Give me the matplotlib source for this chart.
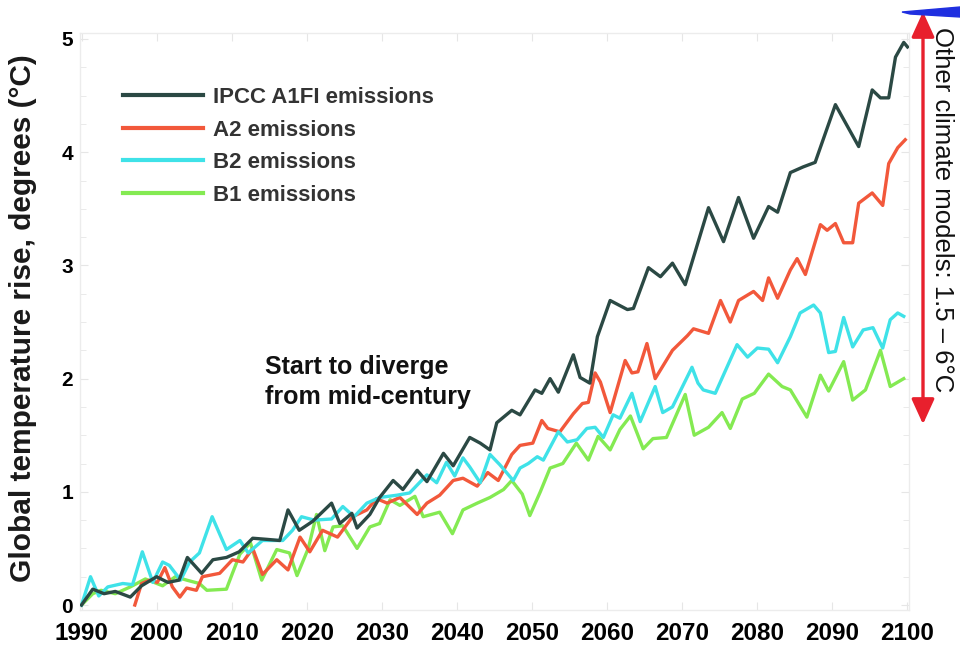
import matplotlib
matplotlib.use("Agg")
import matplotlib.pyplot as plt
from matplotlib.patches import Polygon, FancyArrowPatch
from matplotlib.ticker import MultipleLocator

plt.rcParams['font.family'] = ['Liberation Sans', 'DejaVu Sans']

# ---- projected warming series (years, degrees C above 1990) ----
a1fi_years = [1990.0, 1991.5, 1993.0, 1994.5, 1996.5, 1998.0, 2000.0, 2001.5, 2003.0, 2004.1,
              2006.0, 2007.5, 2009.3, 2011.0, 2012.8, 2014.7, 2016.4, 2017.5, 2019.0, 2020.8,
              2023.3, 2024.4, 2026.0, 2026.7, 2028.4, 2029.7, 2031.5, 2032.8, 2034.7, 2036.0,
              2038.2, 2039.5, 2041.7, 2043.1, 2044.4, 2045.3, 2047.3, 2048.4, 2050.4, 2051.3,
              2052.4, 2053.5, 2055.5, 2056.4, 2057.7, 2058.7, 2060.4, 2062.7, 2063.5, 2065.5,
              2067.1, 2068.7, 2070.4, 2073.5, 2075.5, 2077.5, 2079.5, 2081.5, 2082.7, 2084.4,
              2086.1, 2087.7, 2090.4, 2093.5, 2095.3, 2096.4, 2097.5, 2098.4, 2099.5, 2100.0]
a1fi_values = [0.00, 0.14, 0.10, 0.12, 0.07, 0.17, 0.25, 0.20, 0.22, 0.42,
               0.28, 0.40, 0.42, 0.47, 0.59, 0.58, 0.57, 0.84, 0.66, 0.74,
               0.90, 0.72, 0.81, 0.68, 0.80, 0.95, 1.10, 1.02, 1.19, 1.09,
               1.34, 1.23, 1.48, 1.43, 1.37, 1.61, 1.72, 1.68, 1.90, 1.87,
               2.00, 1.88, 2.21, 2.01, 1.96, 2.37, 2.69, 2.61, 2.62, 2.98,
               2.90, 3.02, 2.83, 3.51, 3.21, 3.60, 3.24, 3.52, 3.47, 3.82,
               3.87, 3.91, 4.42, 4.05, 4.55, 4.48, 4.48, 4.84, 4.97, 4.93]

a2_years = [1997.1, 1998.0, 1999.1, 2000.1, 2001.1, 2002.1, 2003.1, 2004.0, 2005.3, 2006.1,
            2008.4, 2010.1, 2011.5, 2012.8, 2014.1, 2016.0, 2017.5, 2019.1, 2020.4, 2022.1,
            2024.1, 2026.1, 2028.0, 2029.3, 2030.7, 2032.4, 2034.7, 2036.0, 2037.7, 2039.5,
            2040.8, 2042.7, 2044.1, 2045.5, 2047.3, 2048.4, 2050.1, 2051.3, 2052.1, 2053.7,
            2055.5, 2056.7, 2057.5, 2058.4, 2059.1, 2060.4, 2062.4, 2063.3, 2064.1, 2065.3,
            2066.4, 2068.7, 2070.7, 2071.5, 2073.5, 2075.1, 2076.4, 2077.5, 2079.5, 2080.7,
            2081.5, 2082.7, 2084.4, 2085.3, 2086.4, 2088.4, 2089.3, 2090.4, 2091.5, 2092.7,
            2093.5, 2095.3, 2096.7, 2097.5, 2098.7, 2099.7]
a2_values = [0.00, 0.19, 0.22, 0.20, 0.33, 0.16, 0.07, 0.15, 0.13, 0.25,
             0.28, 0.40, 0.38, 0.50, 0.27, 0.40, 0.31, 0.60, 0.47, 0.66,
             0.60, 0.78, 0.84, 0.94, 0.90, 0.95, 0.80, 0.90, 0.97, 1.10,
             1.12, 1.05, 1.17, 1.10, 1.33, 1.41, 1.43, 1.63, 1.56, 1.53,
             1.69, 1.78, 1.79, 2.05, 1.97, 1.70, 2.16, 2.05, 2.06, 2.31,
             2.00, 2.25, 2.38, 2.44, 2.40, 2.69, 2.50, 2.69, 2.77, 2.69,
             2.89, 2.71, 2.96, 3.06, 2.92, 3.36, 3.31, 3.37, 3.20, 3.20,
             3.55, 3.64, 3.53, 3.90, 4.04, 4.11]

b2_years = [1990.0, 1991.2, 1992.3, 1993.5, 1995.5, 1996.8, 1998.1, 1999.5, 2000.8, 2001.7,
            2003.2, 2004.4, 2005.7, 2007.4, 2009.3, 2011.1, 2012.2, 2014.1, 2016.8, 2018.1,
            2019.3, 2021.0, 2023.3, 2024.8, 2026.3, 2028.0, 2029.7, 2032.0, 2033.7, 2036.0,
            2037.3, 2038.6, 2039.7, 2040.8, 2041.7, 2043.1, 2044.4, 2045.7, 2047.5, 2048.4,
            2049.5, 2050.7, 2051.5, 2053.5, 2054.7, 2056.0, 2057.3, 2058.4, 2059.5, 2060.8,
            2061.7, 2063.3, 2064.4, 2066.4, 2067.4, 2068.7, 2071.3, 2072.1, 2072.8, 2074.4,
            2077.3, 2078.7, 2080.0, 2081.5, 2082.7, 2084.4, 2085.7, 2087.5, 2088.4, 2089.5,
            2090.4, 2091.5, 2092.7, 2094.1, 2095.4, 2096.7, 2097.7, 2098.7, 2099.5]
b2_values = [0.00, 0.25, 0.08, 0.16, 0.19, 0.18, 0.47, 0.20, 0.38, 0.35,
             0.22, 0.38, 0.46, 0.78, 0.49, 0.57, 0.46, 0.57, 0.57, 0.66,
             0.78, 0.75, 0.76, 0.87, 0.78, 0.90, 0.95, 0.97, 0.99, 1.15,
             1.08, 1.26, 1.14, 1.30, 1.22, 1.08, 1.33, 1.24, 1.10, 1.21,
             1.25, 1.31, 1.28, 1.53, 1.44, 1.46, 1.56, 1.57, 1.48, 1.68,
             1.65, 1.87, 1.62, 1.93, 1.70, 1.75, 2.10, 1.96, 1.90, 1.87,
             2.30, 2.19, 2.27, 2.26, 2.14, 2.37, 2.58, 2.65, 2.58, 2.23,
             2.24, 2.54, 2.28, 2.43, 2.45, 2.27, 2.52, 2.58, 2.55]

b1_years = [1990.0, 1991.5, 1992.6, 1994.5, 1996.5, 1998.5, 2000.8, 2002.5, 2004.0, 2005.7,
            2006.7, 2009.3, 2010.1, 2011.1, 2012.5, 2014.0, 2016.0, 2017.7, 2018.7, 2020.2,
            2021.3, 2022.4, 2023.5, 2024.8, 2026.7, 2028.4, 2029.7, 2031.1, 2032.4, 2034.4,
            2035.5, 2037.7, 2039.4, 2040.8, 2042.7, 2044.4, 2046.2, 2047.3, 2048.7, 2049.7,
            2051.1, 2052.4, 2054.1, 2055.9, 2057.5, 2058.8, 2060.4, 2061.7, 2063.1, 2064.8,
            2066.1, 2067.9, 2070.4, 2071.6, 2073.5, 2075.3, 2076.4, 2078.0, 2079.6, 2081.5,
            2083.3, 2084.4, 2086.6, 2088.4, 2089.5, 2091.5, 2092.7, 2094.4, 2096.4, 2097.7,
            2099.5]
b1_values = [0.00, 0.10, 0.13, 0.10, 0.16, 0.23, 0.17, 0.25, 0.22, 0.19,
             0.13, 0.14, 0.28, 0.45, 0.55, 0.22, 0.49, 0.46, 0.26, 0.50,
             0.80, 0.48, 0.69, 0.70, 0.50, 0.69, 0.72, 0.93, 0.88, 0.96,
             0.78, 0.82, 0.63, 0.84, 0.90, 0.95, 1.02, 1.10, 0.98, 0.79,
             1.00, 1.21, 1.25, 1.43, 1.28, 1.49, 1.37, 1.55, 1.67, 1.38,
             1.47, 1.48, 1.86, 1.50, 1.57, 1.70, 1.56, 1.82, 1.87, 2.04,
             1.93, 1.90, 1.66, 2.03, 1.89, 2.15, 1.81, 1.90, 2.25, 1.93,
             2.00]

x_ticks = [1990, 2000, 2010, 2020, 2030, 2040, 2050, 2060, 2070, 2080, 2090, 2100]
y_ticks = [0, 1, 2, 3, 4, 5]

series_labels = ["IPCC A1FI emissions", "A2 emissions", "B2 emissions", "B1 emissions"]
series_colors = ["#2b4944", "#f2583b", "#3fe2e8", "#84ea52"]

fig = plt.figure(figsize=(9.6, 6.46), dpi=100)
ax = fig.add_axes([80 / 960, 1 - 610 / 646, 829 / 960, 577 / 646])

lw = 2.4
h_a1, = ax.plot(a1fi_years, a1fi_values, color=series_colors[0], lw=lw, zorder=5)
h_a2, = ax.plot(a2_years, a2_values, color=series_colors[1], lw=lw, zorder=3)
h_b2, = ax.plot(b2_years, b2_values, color=series_colors[2], lw=lw, zorder=4)
h_b1, = ax.plot(b1_years, b1_values, color=series_colors[3], lw=lw, zorder=2)

ax.set_xlim(1989.8, 2100.2)
ax.set_ylim(-0.044, 5.053)
ax.set_xticks(x_ticks)
ax.set_yticks(y_ticks)
ax.yaxis.set_minor_locator(MultipleLocator(0.25))
ax.tick_params(axis='both', which='both', direction='in', color='#e6e6e6',
               top=True, right=True)
ax.tick_params(axis='x', which='major', length=6, pad=9, labelsize=17.5)
ax.tick_params(axis='y', which='major', length=6, pad=5, labelsize=15)
ax.tick_params(axis='y', which='minor', length=4)
for lab in ax.get_xticklabels() + ax.get_yticklabels():
    lab.set_fontweight('bold')
for sp in ax.spines.values():
    sp.set_color('#ececec')
    sp.set_linewidth(1.0)

fig.text(23 / 960, 1 - 318 / 646, "Global temperature rise, degrees (°C)",
         rotation=90, ha='center', va='center', fontsize=21.5, fontweight='bold',
         color='#1a1a1a')

leg = ax.legend([h_a1, h_a2, h_b2, h_b1], series_labels,
                loc='upper left', bbox_to_anchor=(123 / 960, 1 - 87 / 646),
                bbox_transform=fig.transFigure, frameon=False,
                handlelength=3.6, handletextpad=0.45, labelspacing=0.52,
                prop={'weight': 'bold', 'size': 16}, borderaxespad=0, borderpad=0)
for t in leg.get_texts():
    t.set_color('#333333')
for h in leg.get_lines():
    h.set_linewidth(3)

ax.text(2014.4, 1.97, "Start to diverge\nfrom mid-century", fontsize=18,
        fontweight='bold', color='#111111', ha='left', va='center', linespacing=1.3)

# range of other climate models, drawn in figure pixels
to_fig = lambda x, y: (x / 960, 1 - y / 646)
blue = Polygon([to_fig(902, 12), to_fig(960, 7), to_fig(960, 17), to_fig(910, 14)],
               closed=True, transform=fig.transFigure, color='#1f2fe0', zorder=10)
fig.patches.append(blue)
arrow = FancyArrowPatch(to_fig(923, 9), to_fig(923, 427), transform=fig.transFigure,
                        arrowstyle='<|-|>,head_length=1.1,head_width=0.5',
                        mutation_scale=14, color='#e8202d', lw=2.4)
fig.patches.append(arrow)
fig.text(942 / 960, 1 - 210 / 646, "Other climate models: 1.5 – 6°C",
         rotation=270, ha='center', va='center', fontsize=18.5, color='#111111')

fig.savefig("out.png", dpi=100)
